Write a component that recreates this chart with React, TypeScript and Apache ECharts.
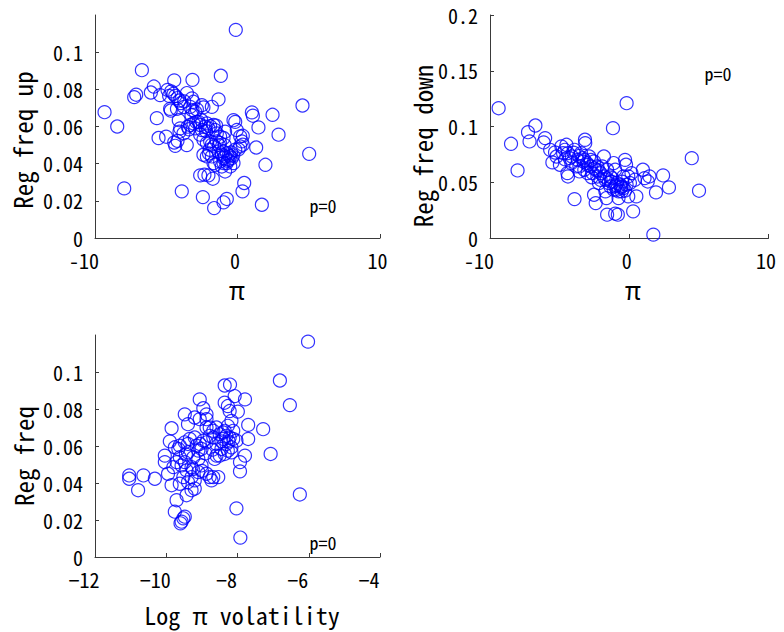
import React, { useEffect, useRef } from 'react';
import * as echarts from 'echarts';

// Panel 1: pi vs Reg freq up
const piUp: [number, number][] = [
  [-0.12, 0.112], [-6.71, 0.0903], [-9.33, 0.0677], [-8.44, 0.06], [-7.95, 0.0267], [-7.25, 0.0758], [-7.11, 0.0771],
  [-6.08, 0.0783], [-5.87, 0.0815], [-5.43, 0.0769], [-4.44, 0.0848], [-3.16, 0.0851], [-1.17, 0.0873], [-5.66, 0.0645],
  [-5.54, 0.0538], [-5.01, 0.0545], [-4.44, 0.0514], [-4.37, 0.0496], [-4.21, 0.0523], [-3.91, 0.0251], [-3.56, 0.05],
  [-2.43, 0.022], [-2.62, 0.0337], [-2.32, 0.0341], [-2.04, 0.0337], [-1.73, 0.0319], [-1.64, 0.0161], [-0.98, 0.0192],
  [-0.75, 0.021], [0.35, 0.0251], [0.47, 0.0296], [1.71, 0.0179], [1.96, 0.0394], [1.31, 0.0487], [1.47, 0.0595],
  [1.01, 0.0676], [1.08, 0.0658], [2.46, 0.0663], [2.88, 0.0556], [4.56, 0.0713], [5.03, 0.0453],
  [-4.91, 0.0797], [-4.65, 0.0789], [-4.49, 0.0776], [-4.37, 0.0765], [-4.21, 0.0753], [-4.07, 0.074], [-3.98, 0.0726],
  [-3.74, 0.0735], [-4.73, 0.0695], [-4.68, 0.0686], [-4.12, 0.0634], [-3.2, 0.0751], [-3.09, 0.0733], [-3.32, 0.0706],
  [-3.16, 0.0688], [-3.23, 0.0661], [-2.97, 0.0679], [-2.85, 0.0692], [-2.5, 0.0715], [-2.39, 0.0703], [-1.8, 0.0706],
  [-1.33, 0.0746], [-4.02, 0.059], [-4.07, 0.0572], [-3.79, 0.0563], [-3.49, 0.0599], [-3.32, 0.0608], [-3.09, 0.0617],
  [-2.97, 0.059], [-2.74, 0.0625], [-2.62, 0.0608], [-2.5, 0.0581], [-2.27, 0.0599], [-2.15, 0.0617], [-2.04, 0.059],
  [-1.92, 0.0602], [-1.68, 0.0608], [-1.57, 0.0581], [-1.45, 0.0563], [-1.22, 0.0545], [-0.98, 0.0538], [-0.87, 0.0572],
  [-2.62, 0.0556], [-2.39, 0.0529], [-2.15, 0.0511], [-1.92, 0.052], [-1.8, 0.0502], [-1.64, 0.0493], [-1.45, 0.052],
  [-1.22, 0.0511], [-2.39, 0.0448], [-2.15, 0.0439], [-1.8, 0.0439], [-1.68, 0.0403], [-1.57, 0.0394], [-1.33, 0.0466],
  [-1.1, 0.0448], [-0.98, 0.043], [-0.87, 0.0439], [-0.75, 0.0457], [-0.63, 0.0421], [-0.51, 0.0439], [-0.4, 0.043],
  [-0.75, 0.0403], [-0.98, 0.0403], [-1.22, 0.0412], [-1.1, 0.0385], [-0.87, 0.0358], [-0.51, 0.0385], [-0.28, 0.0403],
  [-0.16, 0.0475], [-0.05, 0.0581], [-0.28, 0.0634], [-0.16, 0.0625], [0.19, 0.0547], [0.37, 0.055], [0.19, 0.0493],
  [0.37, 0.0502], [0.07, 0.0477], [0.3, 0.052],
  [-0.6, 0.0445], [-0.45, 0.046], [-0.7, 0.0415], [-1.0, 0.0465], [-0.3, 0.0445], [-2.9, 0.0625], [-2.55, 0.0635],
  [-3.4, 0.0585], [-2.2, 0.0575], [-1.5, 0.0605], [-3.75, 0.0705], [-4.25, 0.0695], [-3.55, 0.078], [-4.8, 0.0765],
  [-1.3, 0.05], [-1.95, 0.0475], [-2.0, 0.0455], [-0.9, 0.05],
];

// Panel 2: pi vs Reg freq down
const piDown: [number, number][] = [
  [-9.38, 0.1164], [-8.49, 0.0845], [-8.02, 0.0606], [-7.27, 0.0949], [-6.74, 0.1009], [-7.16, 0.0866], [-6.04, 0.0896],
  [-6.15, 0.0857], [-5.68, 0.0791], [-5.52, 0.0678], [-4.98, 0.0657], [-4.87, 0.0821], [-4.63, 0.0791], [-4.51, 0.0836],
  [-4.4, 0.0761], [-4.44, 0.0582], [-4.4, 0.0552], [-3.93, 0.0349], [-3.18, 0.0881], [-3.16, 0.0851], [-4.12, 0.0731],
  [-3.93, 0.0791], [-3.7, 0.0701], [-3.58, 0.0642], [-3.46, 0.0761], [-3.35, 0.0716], [-3.23, 0.0612], [-3.04, 0.0672],
  [-2.88, 0.0731], [-2.76, 0.0642], [-2.53, 0.0687], [-2.41, 0.0612], [-2.29, 0.0552], [-2.53, 0.0388], [-2.41, 0.0313],
  [-2.18, 0.0493], [-2.06, 0.0582], [-1.82, 0.0731], [-1.94, 0.0642], [-1.71, 0.0418], [-1.64, 0.0358], [-1.59, 0.0209],
  [-1.17, 0.0985], [-1.12, 0.0672], [-1.01, 0.0612], [-1.24, 0.0537], [-0.89, 0.0493], [-0.77, 0.0418], [-1.01, 0.0218],
  [-0.82, 0.0209], [-0.77, 0.0358], [-0.54, 0.0463], [-0.42, 0.0552], [-0.3, 0.0701], [-0.23, 0.0657], [-0.19, 0.1209],
  [-0.07, 0.0373], [0.05, 0.0493], [0.16, 0.0582], [0.28, 0.0239], [0.4, 0.0522], [0.51, 0.0373], [0.98, 0.0612],
  [1.1, 0.0537], [1.33, 0.0507], [1.45, 0.0552], [1.73, 0.003], [1.92, 0.0409], [2.43, 0.0561], [2.85, 0.0454],
  [4.49, 0.0716], [5.01, 0.0424],
  [-5.33, 0.0767], [-5.22, 0.0731], [-4.75, 0.0761], [-4.28, 0.0716], [-4.16, 0.0672], [-3.81, 0.0642], [-3.58, 0.0597],
  [-3.23, 0.0701], [-2.99, 0.0582], [-2.76, 0.0701], [-2.64, 0.0582], [-2.29, 0.0642], [-2.06, 0.0522], [-1.82, 0.0552],
  [-1.59, 0.0612], [-1.47, 0.0493], [-1.36, 0.0463], [-1.12, 0.0433], [-1.01, 0.0463], [-0.89, 0.0433], [-0.65, 0.0478],
  [-0.54, 0.0418], [-0.42, 0.0448], [-0.19, 0.0478], [-0.07, 0.0552], [-1.36, 0.0552], [-1.71, 0.0522],
  [-4.0, 0.0765], [-3.6, 0.0735], [-3.0, 0.0655], [-2.5, 0.0625], [-2.2, 0.0605], [-1.3, 0.0505], [-0.95, 0.0475],
  [-0.6, 0.0455], [-0.3, 0.0425], [-1.6, 0.0535], [-2.7, 0.0545], [-4.6, 0.0705], [-3.3, 0.0685], [-0.5, 0.0505],
];

// Panel 3: Log pi volatility vs Reg freq
const volFreq: [number, number][] = [
  [-6.02, 0.1164], [-6.81, 0.0954], [-6.53, 0.0821], [-7.28, 0.0691], [-7.07, 0.0557], [-6.25, 0.0338], [-8.03, 0.0263],
  [-7.92, 0.0105], [-7.79, 0.0852], [-7.7, 0.0714], [-7.7, 0.0638], [-7.79, 0.0548], [-7.93, 0.0513], [-7.93, 0.0463],
  [-8.36, 0.0927], [-8.21, 0.0932], [-8.08, 0.087], [-8.36, 0.0834], [-8.27, 0.0816], [-8.22, 0.0789], [-7.99, 0.0786],
  [-8.17, 0.0736], [-8.27, 0.0709], [-8.36, 0.0682], [-8.12, 0.0682], [-8.03, 0.0629], [-8.4, 0.0638], [-8.31, 0.0611],
  [-8.17, 0.0593], [-8.45, 0.0584], [-8.5, 0.0548], [-8.36, 0.0557], [-8.59, 0.0611], [-8.68, 0.0682], [-8.78, 0.07],
  [-8.59, 0.07], [-8.87, 0.07], [-9.06, 0.0852], [-8.96, 0.0804], [-8.87, 0.0771], [-9.06, 0.0745], [-9.2, 0.0754],
  [-9.48, 0.0771], [-9.39, 0.0718], [-9.85, 0.0696], [-9.9, 0.0625], [-10.04, 0.0548], [-10.04, 0.0513], [-9.95, 0.045],
  [-9.85, 0.0388], [-9.71, 0.0307], [-9.76, 0.0245], [-9.57, 0.0191], [-9.52, 0.0209], [-9.48, 0.0218], [-9.6, 0.0182],
  [-11.04, 0.0441], [-11.04, 0.0423], [-10.79, 0.0361], [-10.64, 0.0441], [-10.32, 0.0423], [-9.76, 0.0593], [-9.66, 0.0584],
  [-9.62, 0.0539], [-9.71, 0.0513], [-9.8, 0.0486], [-9.57, 0.0495], [-9.48, 0.0513], [-9.43, 0.0468], [-9.52, 0.0432],
  [-9.62, 0.0396], [-9.39, 0.0405], [-9.43, 0.0334], [-9.29, 0.0361], [-9.2, 0.037], [-9.29, 0.0432], [-9.2, 0.0414],
  [-9.29, 0.0486], [-9.24, 0.0539], [-9.39, 0.0566], [-9.48, 0.062], [-9.34, 0.0638], [-9.2, 0.0646], [-9.15, 0.0602],
  [-9.06, 0.0611], [-9.01, 0.0584], [-9.1, 0.0575], [-8.96, 0.0629], [-8.87, 0.062], [-9.01, 0.0495], [-9.1, 0.0459],
  [-8.87, 0.045], [-8.78, 0.0432], [-8.68, 0.0432], [-8.54, 0.0432], [-8.73, 0.0414], [-8.64, 0.053], [-8.59, 0.0548],
  [-8.78, 0.0655], [-8.68, 0.0646], [-8.5, 0.0664], [-8.4, 0.0673], [-8.31, 0.0655], [-8.22, 0.0646], [-8.12, 0.0638],
  [-8.17, 0.0566], [-8.27, 0.0575], [-8.87, 0.0745], [-9.39, 0.0611], [-9.62, 0.0602],
  [-9.1, 0.053], [-8.9, 0.056], [-8.7, 0.058], [-9.45, 0.0555], [-8.45, 0.0625], [-8.25, 0.0625], [-9.25, 0.0475],
  [-9.0, 0.0465],
];

// Tick values
const yTicksFreq = [0, 0.02, 0.04, 0.06, 0.08, 0.1];
const yTicksDown = [0, 0.05, 0.1, 0.15, 0.2];
const xTicksPi = [-10, 0, 10];
const xTicksVol = [-12, -10, -8, -6, -4];

const yTitles = ['Reg freq up', 'Reg freq down', 'Reg freq'];
const xTitles = ['π', 'π', 'Log π volatility'];
const pLabels = ['p=0', 'p=0', 'p=0'];

const FONT = "'Noto Sans Mono CJK JP', 'DejaVu Sans Mono', monospace";
const AXIS = '#3a3a3a';

function fmtNum(v: number, minus: string) {
  const s = String(+v.toFixed(3));
  return s.startsWith('-') ? minus + s.slice(1) : s;
}

function makeX(gridIndex: number, ticks: number[], minus: string, margin: number) {
  return {
    type: 'value', gridIndex, min: ticks[0], max: ticks[ticks.length - 1],
    axisLine: { show: true, onZero: false, lineStyle: { color: AXIS, width: 1 } },
    axisTick: { show: true, inside: true, length: 4, customValues: ticks, lineStyle: { color: AXIS } },
    splitLine: { show: false },
    axisLabel: {
      color: '#000', fontFamily: FONT, fontSize: 20, lineHeight: 20, margin, customValues: ticks,
      formatter: (v: number) => (v < 0 ? '{n|' + fmtNum(v, minus) + '}' : '{p|' + fmtNum(v, minus) + '}'),
      rich: {
        n: { fontFamily: FONT, fontSize: 20, lineHeight: 20, color: '#000', padding: [0, 22, 0, 0] },
        p: { fontFamily: FONT, fontSize: 20, lineHeight: 20, color: '#000', padding: [0, 5, 0, 0] },
      },
    },
  };
}

function makeY(gridIndex: number, max: number, ticks: number[]) {
  return {
    type: 'value', gridIndex, min: 0, max,
    axisLine: { show: true, onZero: false, lineStyle: { color: AXIS, width: 1 } },
    axisTick: { show: true, inside: true, length: 4, customValues: ticks, lineStyle: { color: AXIS } },
    splitLine: { show: false },
    axisLabel: {
      color: '#000', fontFamily: FONT, fontSize: 20, lineHeight: 18, margin: 12, customValues: ticks,
      formatter: (v: number) => fmtNum(v, '-'),
    },
  };
}

function scatter(idx: number, data: [number, number][]) {
  return {
    type: 'scatter', xAxisIndex: idx, yAxisIndex: idx, data,
    symbol: 'circle', symbolSize: 13,
    itemStyle: { color: 'rgba(0,0,0,0)', borderColor: '#0000ff', borderWidth: 1.2 },
    emphasis: { disabled: true },
  };
}

export default function App() {
  const ref = useRef<HTMLDivElement>(null);
  useEffect(() => {
    if (!ref.current) return;
    const chart = echarts.init(ref.current, undefined, { renderer: 'svg' });
    const titleStyle = { fontFamily: FONT, fontSize: 25, fill: '#000', textAlign: 'center', textVerticalAlign: 'middle', lineHeight: 26 };
    const pStyle = { fontFamily: FONT, fontSize: 18, fill: '#000', textAlign: 'center', textVerticalAlign: 'middle' };
    chart.setOption({
      animation: false,
      backgroundColor: '#fff',
      grid: [
        { left: 95, top: 15, width: 285, height: 223 },
        { left: 490, top: 15, width: 285, height: 223 },
        { left: 95, top: 335, width: 285, height: 222 },
      ],
      xAxis: [
        makeX(0, xTicksPi, '-', 12),
        makeX(1, xTicksPi, '-', 12),
        makeX(2, xTicksVol, '−', 12),
      ],
      yAxis: [
        makeY(0, 0.12, yTicksFreq),
        makeY(1, 0.2, yTicksDown),
        makeY(2, 0.12, yTicksFreq),
      ],
      series: [scatter(0, piUp), scatter(1, piDown), scatter(2, volFreq)],
      graphic: [
        { type: 'text', x: 22, y: 140, rotation: Math.PI / 2, style: { ...titleStyle, text: yTitles[0] } },
        { type: 'text', x: 422, y: 146, rotation: Math.PI / 2, style: { ...titleStyle, text: yTitles[1] } },
        { type: 'text', x: 23, y: 456, rotation: Math.PI / 2, style: { ...titleStyle, text: yTitles[2] } },
        { type: 'text', x: 237, y: 289, style: { ...titleStyle, text: xTitles[0] } },
        { type: 'text', x: 633, y: 289, style: { ...titleStyle, text: xTitles[1] } },
        { type: 'text', x: 242, y: 614, style: { ...titleStyle, fontSize: 24, text: xTitles[2] } },
        { type: 'text', x: 323, y: 205, style: { ...pStyle, text: pLabels[0] } },
        { type: 'text', x: 718, y: 73, style: { ...pStyle, text: pLabels[1] } },
        { type: 'text', x: 323, y: 542, style: { ...pStyle, text: pLabels[2] } },
      ],
    });
    return () => chart.dispose();
  }, []);
  return <div ref={ref} style={{ position: 'fixed', left: 0, top: 0, width: 784, height: 632 }} />;
}
